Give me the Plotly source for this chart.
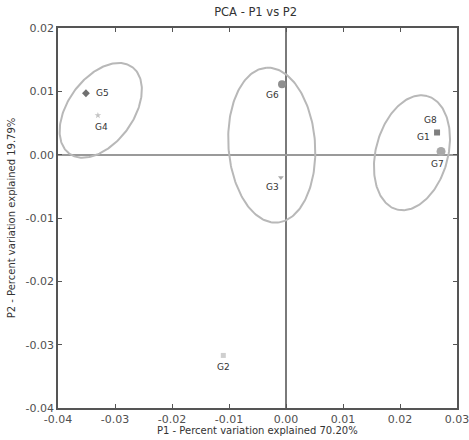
import numpy as np
import plotly.graph_objects as go

# PCA scores per sample
samples = ["G1", "G2", "G3", "G4", "G5", "G6", "G7", "G8"]
p1 = [0.0265, -0.0110, -0.0009, -0.0330, -0.0351, -0.0007, 0.0272, 0.0266]
p2 = [0.0035, -0.0317, -0.0036, 0.0062, 0.0097, 0.0111, 0.0005, 0.0037]

# Group ellipses: centre, semi-axes (in P1 units) and screen tilt in degrees
ell_cx = [-0.0325, -0.0025, 0.0221]
ell_cy = [0.0070, 0.0015, 0.0003]
ell_a = [0.00939, 0.01362, 0.01030]
ell_b = [0.00574, 0.00760, 0.00633]
ell_tilt = [54, 94, 75]

x_ticks = [-0.04, -0.03, -0.02, -0.01, 0.00, 0.01, 0.02, 0.03]
x_ticktext = ["-0.04", "-0.03", "-0.02", "-0.01", "0.00", "0.01", "0.02", "0.03"]
y_ticks = [-0.04, -0.03, -0.02, -0.01, 0.00, 0.01, 0.02]
y_ticktext = ["-0.04", "-0.03", "-0.02", "-0.01", "0.00", "0.01", "0.02"]

# Marker styling per sample
marker_symbols = ["square", "square", "triangle-down", "star", "diamond", "circle", "circle", "square"]
marker_colors = ["#7f7f7f", "#cfcfcf", "#aaaaaa", "#c4c4c4", "#707070", "#8f8f8f", "#a8a8a8", "#8a8a8a"]
marker_sizes = [6, 5, 5, 5, 6, 8, 9, 0]
# label offsets in pixels (dx, dy; dy positive = up)
label_shift = [(-14, -4), (0, -12), (-8, -10), (4, -12), (17, 0), (-10, -11), (-4, -12), (-7, 11)]

W, H = 469, 440
ml, mr, mt, mb = 58, 12, 28, 32
xr = [-0.04, 0.03]
yr = [-0.04, 0.02]
px_per_x = (W - ml - mr) / (xr[1] - xr[0])
px_per_y = (H - mt - mb) / (yr[1] - yr[0])
aspect = px_per_x / px_per_y

font = "DejaVu Sans"
fig = go.Figure()

# ellipses
t = np.linspace(0, 2 * np.pi, 200)
for cx, cy, a, b, th in zip(ell_cx, ell_cy, ell_a, ell_b, ell_tilt):
    r = np.deg2rad(th)
    ex = cx + a * np.cos(r) * np.cos(t) - b * np.sin(r) * np.sin(t)
    ey = cy + aspect * (a * np.sin(r) * np.cos(t) + b * np.cos(r) * np.sin(t))
    fig.add_trace(go.Scatter(x=ex.tolist(), y=ey.tolist(), mode="lines",
                             line=dict(color="#b8b8b8", width=2),
                             hoverinfo="skip", showlegend=False))

# points
for i, name in enumerate(samples):
    if marker_sizes[i] > 0:
        fig.add_trace(go.Scatter(x=[p1[i]], y=[p2[i]], mode="markers",
                                 marker=dict(symbol=marker_symbols[i], size=marker_sizes[i],
                                             color=marker_colors[i], line=dict(width=0)),
                                 name=name, showlegend=False))
    dx, dy = label_shift[i]
    fig.add_annotation(x=p1[i], y=p2[i], text=name, showarrow=False,
                       xshift=dx, yshift=dy,
                       font=dict(family=font, size=9, color="#333333"))

# x-axis title placed below the tick labels
fig.add_annotation(x=0.5, y=-22 / (H - mt - mb), xref="paper", yref="paper",
                   xanchor="center", yanchor="middle", showarrow=False,
                   text="P1 - Percent variation explained 70.20%",
                   font=dict(family=font, size=10, color="#333333"))

axis_common = dict(showline=True, linecolor="#555555", linewidth=1.5, mirror="ticks",
                   ticks="inside", ticklen=4, tickcolor="#555555", showgrid=False,
                   tickfont=dict(family=font, size=11, color="#505050"),
                   zeroline=True)

fig.update_xaxes(range=xr, tickvals=x_ticks, ticktext=x_ticktext,
                 zerolinecolor="#7a7a7a", zerolinewidth=1.5,
                 automargin=False, ticklabeloverflow="allow",
                 **axis_common)
fig.update_yaxes(range=yr, tickvals=y_ticks, ticktext=y_ticktext,
                 zerolinecolor="#9a9a9a", zerolinewidth=1.5, automargin=False,
                 title=dict(text="P2 - Percent variation explained 19.79%", standoff=8,
                            font=dict(family=font, size=10, color="#333333")),
                 **axis_common)

fig.update_layout(
    width=W, height=H,
    margin=dict(l=ml, r=mr, t=mt, b=mb),
    paper_bgcolor="white", plot_bgcolor="white",
    title=dict(text="PCA - P1 vs P2", x=0.545, xanchor="center", y=0.972, yanchor="middle",
               font=dict(family=font, size=11.5, color="#333333")),
)

fig.write_html("out.html")
